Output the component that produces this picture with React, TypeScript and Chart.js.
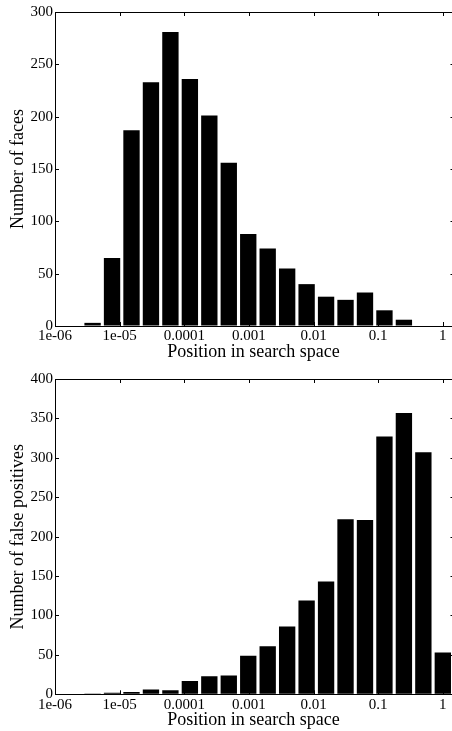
import React, { useEffect, useRef } from "react";
import { Chart, registerables } from "chart.js";

Chart.register(...registerables);

// Histogram bin centres (powers of two, 2^-20 ... 2^0)
const binCenters = [
  9.5367e-7, 1.9073e-6, 3.8147e-6, 7.6294e-6, 1.5259e-5, 3.0518e-5, 6.1035e-5,
  1.2207e-4, 2.4414e-4, 4.8828e-4, 9.7656e-4, 1.9531e-3, 3.9063e-3, 7.8125e-3,
  1.5625e-2, 3.125e-2, 6.25e-2, 0.125, 0.25, 0.5, 1,
];

const faceCounts = [
  0, 0, 3, 65, 187, 233, 281, 236, 201, 156, 88, 74, 55, 40, 28, 25, 32, 15, 6, 0, 0,
];

const falsePositiveCounts = [
  0, 0, 1, 2, 3, 6, 5, 17, 23, 24, 49, 61, 86, 119, 143, 222, 221, 327, 357, 307, 53,
];

const xTickValues = [1e-6, 1e-5, 1e-4, 1e-3, 1e-2, 1e-1, 1];
const xTickLabels = ["1e-06", "1e-05", "0.0001", "0.001", "0.01", "0.1", "1"];

const topYTicks = [0, 50, 100, 150, 200, 250, 300];
const bottomYTicks = [0, 50, 100, 150, 200, 250, 300, 350, 400];

const xAxisTitle = "Position in search space";
const topYTitle = "Number of faces";
const bottomYTitle = "Number of false positives";

const FONT = "'Liberation Serif', 'Times New Roman', serif";

const boxTicksPlugin = {
  id: "boxTicks",
  afterDraw(chart: any) {
    const { ctx, chartArea } = chart;
    const xs = chart.scales.x;
    const ys = chart.scales.y;
    const yTicks: number[] = chart.options.plugins.boxTicks.yTicks;
    ctx.save();
    ctx.strokeStyle = "#000";
    ctx.lineWidth = 1;
    ctx.beginPath();
    // top border
    ctx.moveTo(chartArea.left, Math.round(chartArea.top) + 0.5);
    ctx.lineTo(chartArea.right, Math.round(chartArea.top) + 0.5);
    for (const v of xTickValues) {
      const px = Math.round(xs.getPixelForValue(v)) + 0.5;
      ctx.moveTo(px, chartArea.bottom);
      ctx.lineTo(px, chartArea.bottom - 4);
      ctx.moveTo(px, chartArea.top);
      ctx.lineTo(px, chartArea.top + 4);
    }
    for (const v of yTicks) {
      const py = Math.round(ys.getPixelForValue(v)) + 0.5;
      ctx.moveTo(chartArea.left, py);
      ctx.lineTo(chartArea.left + 4, py);
      ctx.moveTo(chartArea.right, py);
      ctx.lineTo(chartArea.right - 1.5, py);
    }
    ctx.stroke();
    ctx.restore();
  },
};

function makeConfig(
  counts: number[],
  yTicks: number[],
  yTitle: string,
  plotTop: number,
  xAxisHeight: number
): any {
  const yMax = yTicks[yTicks.length - 1];
  return {
    type: "bar",
    data: {
      datasets: [
        {
          data: binCenters.map((x, i) => ({ x, y: counts[i] })),
          backgroundColor: "#000",
          borderWidth: 0,
          categoryPercentage: 1,
          barPercentage: 0.84,
        },
      ],
    },
    options: {
      responsive: false,
      animation: false,
      devicePixelRatio: 1,
      layout: { padding: { top: plotTop, left: 0, right: 0, bottom: 0 } },
      plugins: {
        legend: { display: false },
        tooltip: { enabled: false },
        boxTicks: { yTicks },
      },
      scales: {
        x: {
          type: "logarithmic",
          min: 1e-6,
          max: 1.387,
          offset: false,
          grid: { display: true, drawOnChartArea: false, drawTicks: false },
          border: { display: true, color: "#000", width: 1 },
          afterBuildTicks(scale: any) {
            scale.ticks = xTickValues.map((v) => ({ value: v }));
          },
          afterFit(scale: any) {
            scale.height = xAxisHeight;
          },
          ticks: {
            autoSkip: false,
            maxRotation: 0,
            padding: 1.5,
            color: "#000",
            font: { family: FONT, size: 15 },
            callback: (_v: any, i: number) => xTickLabels[i],
          },
          title: {
            display: true,
            text: xAxisTitle,
            color: "#000",
            font: { family: FONT, size: 18, lineHeight: 1.2 },
            padding: { top: 0, bottom: 1.5 },
          },
        },
        y: {
          type: "linear",
          min: 0,
          max: yMax,
          grid: { display: true, drawOnChartArea: false, drawTicks: false },
          border: { display: true, color: "#000", width: 1 },
          afterBuildTicks(scale: any) {
            scale.ticks = yTicks.map((v) => ({ value: v }));
          },
          afterFit(scale: any) {
            scale.width = 55;
          },
          ticks: {
            padding: 2,
            color: "#000",
            font: { family: FONT, size: 15 },
            callback: (v: any) => String(v),
          },
          title: {
            display: true,
            text: yTitle,
            color: "#000",
            font: { family: FONT, size: 18, lineHeight: 1.2 },
            padding: { top: 7, bottom: 0 },
          },
        },
      },
    },
    plugins: [boxTicksPlugin],
  };
}

export default function App() {
  const topRef = useRef<HTMLCanvasElement | null>(null);
  const bottomRef = useRef<HTMLCanvasElement | null>(null);

  useEffect(() => {
    const c1 = new Chart(
      topRef.current!,
      makeConfig(faceCounts, topYTicks, topYTitle, 12, 39)
    );
    const c2 = new Chart(
      bottomRef.current!,
      makeConfig(falsePositiveCounts, bottomYTicks, bottomYTitle, 14, 38.7)
    );
    return () => {
      c1.destroy();
      c2.destroy();
    };
  }, []);

  return (
    <div
      style={{
        position: "absolute",
        left: 0,
        top: 0,
        width: 452,
        height: 731,
        overflow: "hidden",
        background: "#fff",
      }}
    >
      <canvas
        ref={topRef}
        width={452}
        height={365}
        style={{ position: "absolute", left: 0, top: 0, width: 452, height: 365 }}
      />
      <canvas
        ref={bottomRef}
        width={452}
        height={368}
        style={{ position: "absolute", left: 0, top: 365, width: 452, height: 368 }}
      />
    </div>
  );
}
